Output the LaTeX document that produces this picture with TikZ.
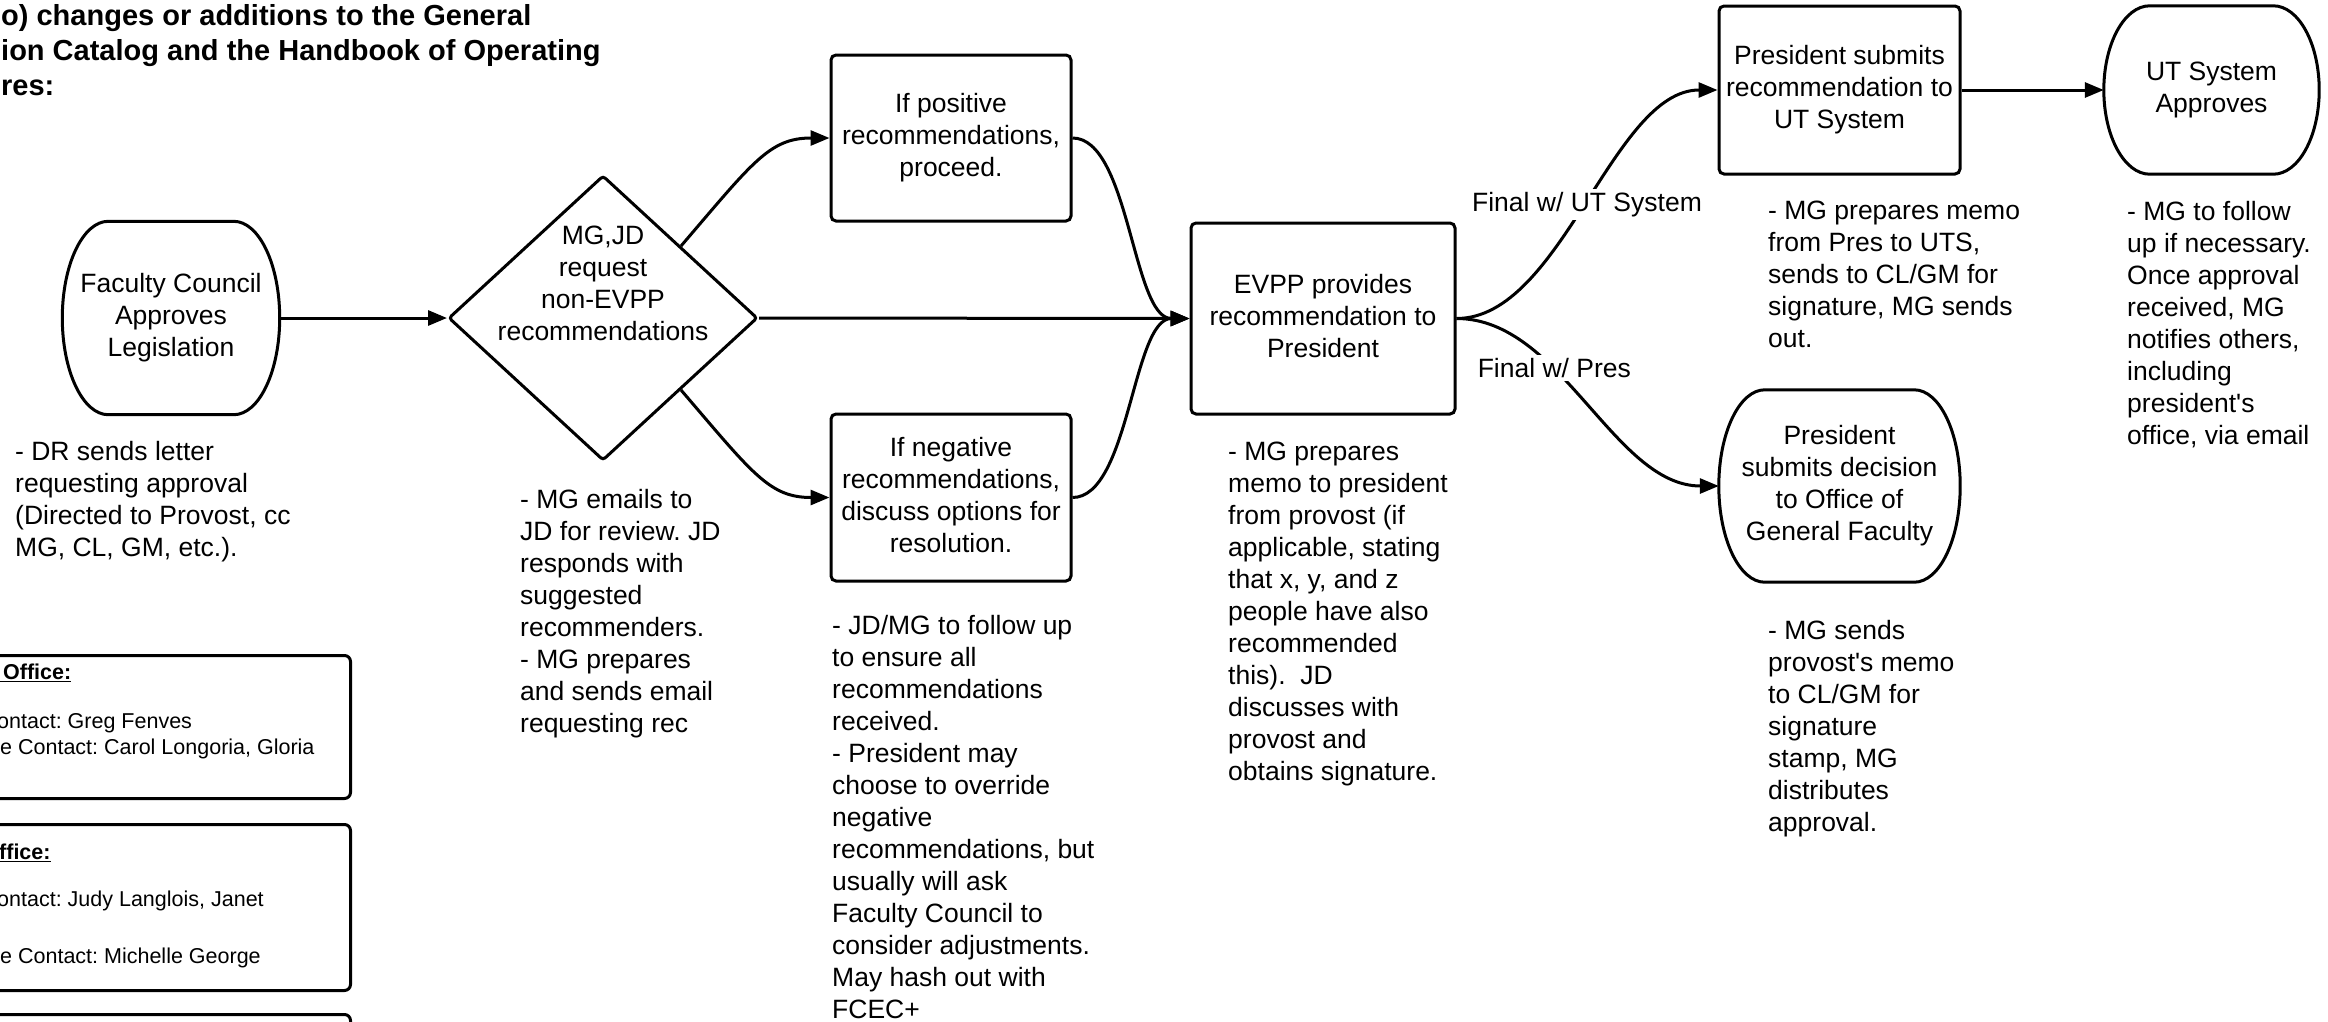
\documentclass[tikz,border=0pt]{standalone}
\usepackage{fontspec}
\setmainfont{Liberation Sans}
\usetikzlibrary{shapes.geometric,arrows.meta,calc}
\frenchspacing
\newcommand\termoutline[2]{%
  \draw[outline] let \p1=(#1.north west), \p2=(#1.south east), \p3=(#1.center) in
    (\x1+#2pt,\y1) -- (\x2-#2pt,\y1)
    .. controls (\x2-0.448*#2pt,\y1) and (\x2,0.552*\y1+0.448*\y3) .. (\x2,\y3)
    .. controls (\x2,0.552*\y2+0.448*\y3) and (\x2-0.448*#2pt,\y2) .. (\x2-#2pt,\y2)
    -- (\x1+#2pt,\y2)
    .. controls (\x1+0.448*#2pt,\y2) and (\x1,0.552*\y2+0.448*\y3) .. (\x1,\y3)
    .. controls (\x1,0.552*\y1+0.448*\y3) and (\x1+0.448*#2pt,\y1) .. cycle;}
\begin{document}
\frenchspacing
\begin{tikzpicture}[x=1pt,y=-1pt,
  base/.style={font=\frenchspacing\fontsize{26.5}{32}\selectfont, inner sep=0pt, align=center},
  box/.style={base, draw, rectangle, line width=3pt, rounded corners=5pt},
  term/.style={base, rectangle},
  outline/.style={line width=3pt},
  dia/.style={base, draw, diamond, line width=3pt, rounded corners=3pt},
  note/.style={font=\frenchspacing\fontsize{26.5}{32}\selectfont, inner sep=0pt, align=left, anchor=north west},
  conn/.style={line width=3pt, -{Triangle[length=19pt,width=15pt]}},
  lbl/.style={font=\fontsize{26.5}{32}\selectfont, fill=white, inner sep=3pt},
  legendbox/.style={draw, rectangle, line width=3pt, rounded corners=6pt, minimum width=420pt},
  legtext/.style={font=\frenchspacing\fontsize{21.5}{26}\selectfont, inner sep=0pt, anchor=west},
  leghead/.style={font=\bfseries\fontsize{21.5}{26}\selectfont, inner sep=0pt, anchor=west},
  titletext/.style={font=\bfseries\fontsize{29}{35}\selectfont, inner sep=0pt, align=left, anchor=north west}]
\useasboundingbox (0,0) rectangle (2328,1021);
\clip (0,0) rectangle (2328,1021);

% title
\node[titletext] (title) at (1,4) {o) changes or additions to the General\\ion Catalog and the Handbook of Operating\\res:};

% main nodes
\node[term, minimum width=217pt, minimum height=193pt] (fc) at (171,318) {Faculty Council\\Approves\\Legislation};
\node[dia, minimum width=309pt, minimum height=285pt] (dia) at (603,318) {};
\node[base] (diatext) at (603,283) {MG,JD\\request\\non-EVPP\\recommendations};
\node[box, minimum width=240pt, minimum height=166pt] (pos) at (951,138) {If positive\\recommendations,\\proceed.};
\node[box, minimum width=240pt, minimum height=167pt] (neg) at (951,497.5) {If negative\\recommendations,\\discuss options for\\resolution.\vphantom{g}};
\node[box, minimum width=264pt, minimum height=191pt] (evpp) at (1323,318.5) {EVPP provides\\recommendation to\\President\vphantom{g}};
\node[box, minimum width=241pt, minimum height=168pt] (presrec) at (1839.5,90) {President submits\\recommendation to\\UT System};
\node[term, minimum width=215pt, minimum height=168pt] (ut) at (2211.5,90) {UT System\\Approves};
\node[term, minimum width=241pt, minimum height=192pt] (presdec) at (1839.5,486) {President\\submits decision\\to Office of\\General Faculty};
\termoutline{fc}{46}
\termoutline{ut}{46}
\termoutline{presdec}{46}

% connectors
\draw[conn] (fc.east) -- (dia.west);
\draw[conn] (dia.east) -- (evpp.west);
\draw[conn] ($(dia.north)!0.5!(dia.east)$) .. controls +(72,-84) and +(-60,0) .. (pos.west);
\draw[conn] ($(dia.south)!0.5!(dia.east)$) .. controls +(72,84) and +(-60,0) .. (neg.west);
\draw[conn] (pos.east) .. controls +(57,0) and +(-57,0) .. (evpp.west);
\draw[conn] (neg.east) .. controls +(57,0) and +(-57,0) .. (evpp.west);
\draw[conn] (evpp.east) .. controls +(105,0) and +(-105,0) .. node[lbl, pos=0.5] (lblut) {Final w/ UT System} (presrec.west);
\draw[conn] (evpp.east) .. controls +(105,0) and +(-105,0) .. node[lbl, pos=0.36] (lblpres) {Final w/ Pres} (presdec.west);
\draw[conn] (presrec.east) -- (ut.west);

% notes
\node[note] (n1) at (15,441) {- DR sends letter\\requesting approval\\(Directed to Provost, cc\\MG, CL, GM, etc.).};
\node[note] (n2) at (520,489) {- MG emails to\\JD for review. JD\\responds with\\suggested\\recommenders.\\- MG prepares\\and sends email\\requesting rec};
\node[note] (n3) at (832,615) {- JD/MG to follow up\\to ensure all\\recommendations\\received.\\- President may\\choose to override\\negative\\recommendations, but\\usually will ask\\Faculty Council to\\consider adjustments.\\May hash out with\\FCEC+};
\node[note] (n4) at (1228,442) {- MG prepares\\memo to president\\from provost (if\\applicable, stating\\that x, y, and z\\people have also\\recommended\\this).~ JD\\discusses with\\provost and\\obtains signature.};
\node[note] (n5) at (1768,201) {- MG prepares memo\\from Pres to UTS,\\sends to CL/GM for\\signature, MG sends\\out.};
\node[note] (n6) at (2127,201) {- MG to follow\\up if necessary.\\Once approval\\received, MG\\notifies others,\\including\\president\textquotesingle s\\office, via email};
\node[note] (n7) at (1768,620) {- MG sends\\provost\textquotesingle s memo\\to CL/GM for\\signature\\stamp, MG\\distributes\\approval.};

% legend boxes (cut off at the left edge)
\node[legendbox, minimum height=143pt, anchor=north east] (leg1) at (352,654) {};
\node[legendbox, minimum height=166pt, anchor=north east] (leg2) at (352,823) {};
\node[legendbox, minimum height=120pt, anchor=north east] (leg3) at (352,1013) {};
\node[leghead] (l1h) at (-3,673) {\underline{\ Office:}};
\node[legtext] (l1a) at (-3,723) {ontact: Greg Fenves};
\node[legtext] (l1b) at (0,749) {e Contact: Carol Longoria, Gloria};
\node[leghead] (l2h) at (-1,853) {\underline{ffice:}};
\node[legtext] (l2a) at (-3,901) {ontact: Judy Langlois, Janet};
\node[legtext] (l2b) at (0,958) {e Contact: Michelle George};
\end{tikzpicture}
\end{document}
